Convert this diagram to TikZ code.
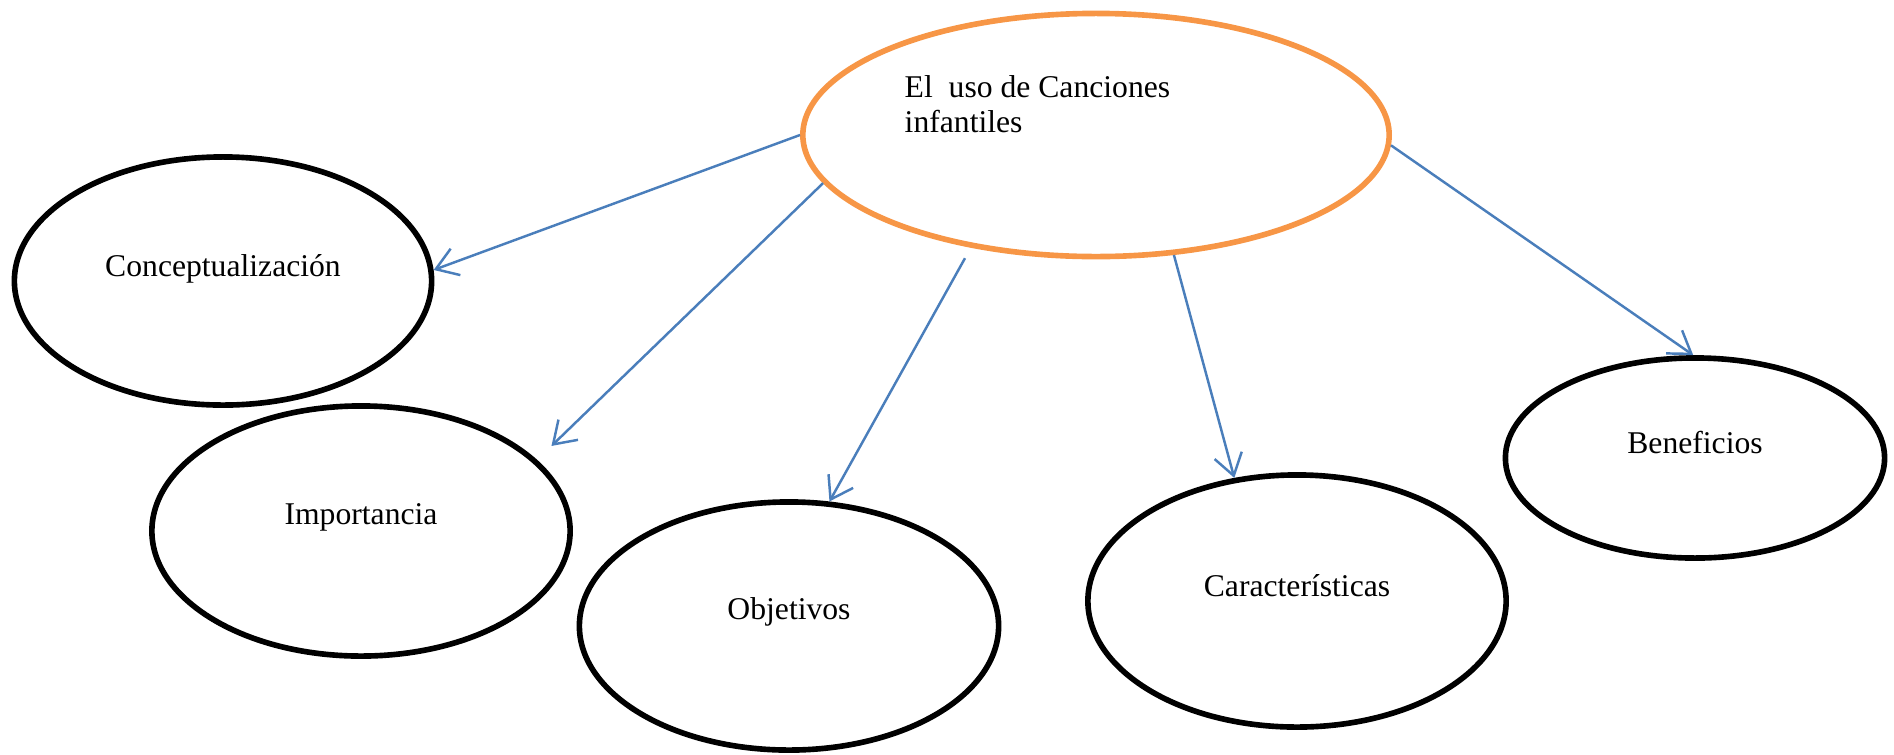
\documentclass[tikz,border=0pt]{standalone}
\usepackage{fontspec}
\setmainfont{Liberation Serif}
\usetikzlibrary{shapes.geometric, arrows.meta}
\definecolor{naranja}{HTML}{F79646}
\definecolor{azul}{HTML}{4A7EBB}
\tikzset{
burbuja/.style={draw, ellipse, line width=1.6pt, inner sep=0pt},
titulo/.style={draw=naranja, ellipse, line width=1.6pt, inner sep=0pt},
texto/.style={inner sep=0pt, font=\fontsize{9}{10}\selectfont},
flecha/.style={draw=azul, line width=0.7pt, -{Straight Barb[length=6pt,width=8pt]}}
}

\begin{document}
\begin{tikzpicture}[x=0.01cm, y=-0.01cm]
\useasboundingbox (0,0) rectangle (1894,754);
\node[titulo, minimum width=5.86cm, minimum height=2.43cm] (tema) at (1096,135) {};
\node[texto, align=left, anchor=north west] (temaT) at (904,75) {El\ \ uso de Canciones\\infantiles};
\node[burbuja, minimum width=4.17cm, minimum height=2.48cm] (concepto) at (223,281) {};
\node[texto, anchor=base] (conceptoT) at (223,276) {Conceptualización};
\node[burbuja, minimum width=4.18cm, minimum height=2.5cm] (importancia) at (361,531) {};
\node[texto, anchor=base] (importanciaT) at (361,524) {Importancia};
\node[burbuja, minimum width=4.19cm, minimum height=2.48cm] (objetivos) at (789,626) {};
\node[texto, anchor=base] (objetivosT) at (789,619) {Objetivos};
\node[burbuja, minimum width=4.18cm, minimum height=2.52cm] (caracteristicas) at (1297,601) {};
\node[texto, anchor=base] (caracteristicasT) at (1297,596) {Características};
\node[burbuja, minimum width=3.79cm, minimum height=2cm] (beneficios) at (1695,458) {};
\node[texto, anchor=base] (beneficiosT) at (1695,453) {Beneficios};
\draw[flecha] (tema.180) -- (concepto.3.5);
\draw[flecha, shorten >=0.2cm] (tema.190.6) -- (importancia.22.8);
\draw[flecha, shorten <=0.12cm] (tema.222.3) -- (objetivos.72);
\draw[flecha] (tema.303.9) -- (caracteristicas.117);
\draw[flecha] (tema.358) -- (beneficios.91);
\end{tikzpicture}
\end{document}
